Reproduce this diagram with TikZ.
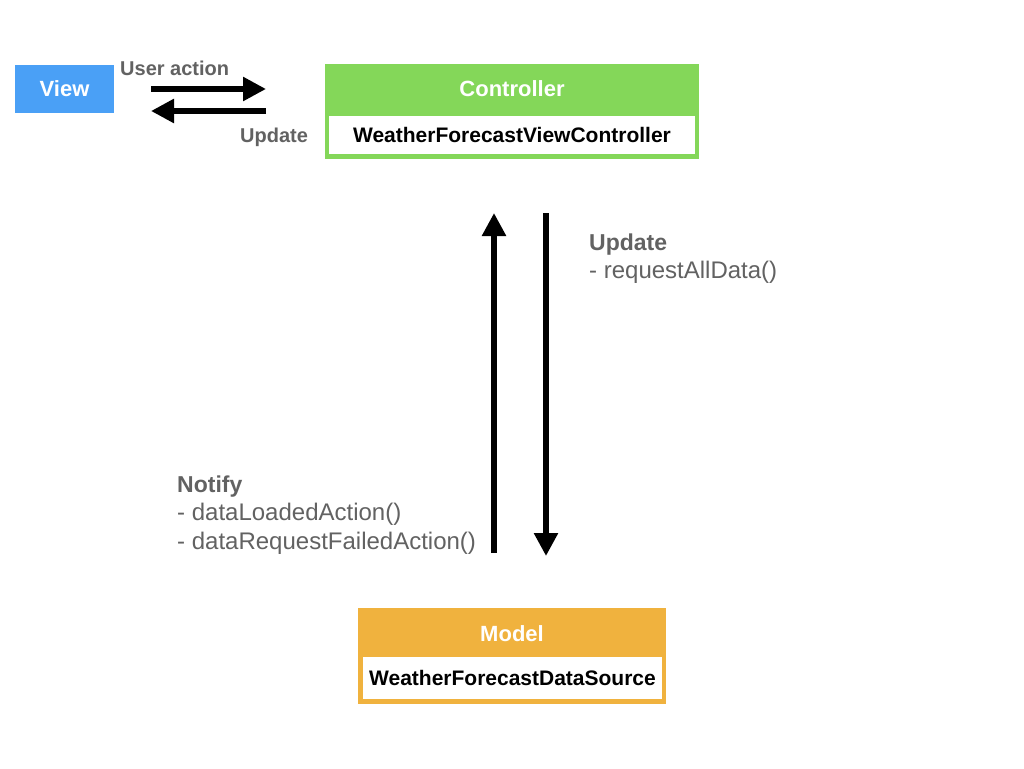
\documentclass[tikz,border=0pt]{standalone}
\usepackage{fontspec}
\setmainfont{Liberation Sans}
\usetikzlibrary{arrows.meta}
\definecolor{viewblue}{RGB}{74,160,246}
\definecolor{ctrlgreen}{RGB}{132,215,89}
\definecolor{modelorange}{RGB}{240,178,62}
\definecolor{labelgray}{RGB}{98,98,98}
\newcommand\fsz[1]{\fontsize{#1}{#1}\selectfont}
\begin{document}
\begin{tikzpicture}[x=1pt,y=-1pt,
  boxouter/.style={draw=none,inner sep=0pt,rectangle},
  boxtitle/.style={text=white,font=\fsz{22}\bfseries,inner sep=0pt},
  boxinner/.style={fill=white,draw=none,inner sep=0pt,font=\fsz{21}\bfseries,text=black},
  lbl/.style={inner sep=0pt,anchor=base west,text=labelgray},
  lblbold/.style={lbl,font=\fsz{23}\bfseries},
  lblreg/.style={lbl,font=\fsz{24}},
  lblsmall/.style={lbl,font=\fsz{20}\bfseries},
  flow/.style={line width=5.5pt,-{Triangle[length=23pt,width=23pt]}}
]
\useasboundingbox[fill=white] (0,0) rectangle (1024,768);

% View
\node[boxouter,fill=viewblue,minimum width=99pt,minimum height=48pt,
      text=white,font=\fsz{22}\bfseries] (view) at (64.5,89) {View};

% Controller
\node[boxouter,fill=ctrlgreen,minimum width=374pt,minimum height=95pt] (ctrl) at (512,111.5) {};
\node[boxtitle] (ctrltitle) at (512,89) {Controller};
\node[boxinner,minimum width=366pt,minimum height=38pt] (ctrlname) at (512,135) {WeatherForecastViewController};

% Model
\node[boxouter,fill=modelorange,minimum width=308pt,minimum height=96pt] (model) at (512,656) {};
\node[boxtitle] (modeltitle) at (512,634) {Model};
\node[boxinner,minimum width=299pt,minimum height=42pt] (modelname) at (512.5,678) {WeatherForecastDataSource};

% arrow end points
\coordinate (ua1) at (151,89);
\coordinate (ua2) at (266,89);
\coordinate (up1) at (266,111);
\coordinate (up2) at (151,111);
\coordinate (nt1) at (494,553);
\coordinate (nt2) at (494,213);
\coordinate (ud1) at (546,213);
\coordinate (ud2) at (546,556);

\draw[flow] (ua1) -- (ua2);
\draw[flow] (up1) -- (up2);
\draw[flow] (nt1) -- (nt2);
\draw[flow] (ud1) -- (ud2);

% labels
\node[lblsmall] (useraction) at (120,75) {User action};
\node[lblsmall] (updatetop) at (240,142.5) {Update};

\node[lblbold] (updatehead) at (589,250) {Update};
\node[lblreg] (updateline) at (589,278) {- requestAllData()};

\node[lblbold] (notifyhead) at (177,492) {Notify};
\node[lblreg] (notifyline1) at (177,520) {- dataLoadedAction()};
\node[lblreg] (notifyline2) at (177,549) {- dataRequestFailedAction()};
\end{tikzpicture}
\end{document}
